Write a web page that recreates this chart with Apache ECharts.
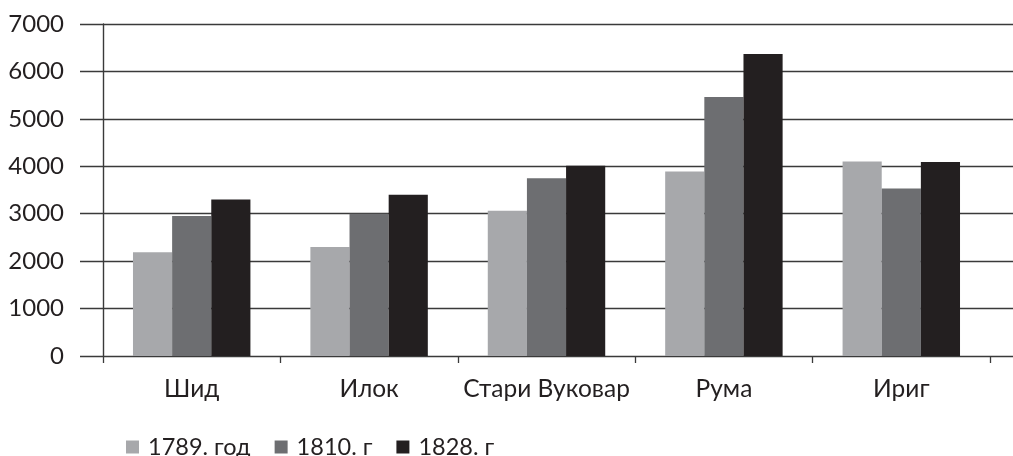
<!DOCTYPE html>
<html>
<head>
<meta charset="utf-8">
<script src="https://cdn.jsdelivr.net/npm/echarts@6/dist/echarts.min.js"></script>
<style>
  html, body { margin: 0; padding: 0; background: #fff; }
  #chart { width: 1013px; height: 456px; }
</style>
</head>
<body>
<div id="chart"></div>
<script>
// места
var categories = ['Шид', 'Илок', 'Стари Вуковар', 'Рума', 'Ириг'];
// број становника по годинама
var seriesNames = ['1789. год', '1810. г', '1828. г'];
var data1789 = [2190, 2300, 3060, 3890, 4100];
var data1810 = [2950, 3000, 3750, 5460, 3530];
var data1828 = [3300, 3400, 4010, 6370, 4090];
var yTicks = [0, 1000, 2000, 3000, 4000, 5000, 6000, 7000];

var colors = ['#a7a8ab', '#6d6e71', '#231f20'];
var font = 'Lato, "Noto Sans", sans-serif';
var textColor = '#231f20';

var chart = echarts.init(document.getElementById('chart'));

chart.setOption({
  animation: false,
  color: colors,
  legend: {
    left: 121,
    top: 430,
    itemWidth: 13,
    itemHeight: 13,
    itemGap: 24,
    icon: 'rect',
    textStyle: { fontFamily: font, fontSize: 23.5, color: textColor, padding: [0, 0, 0, 4] },
    data: seriesNames
  },
  grid: [
    // само линије мреже и ознаке на Y оси
    { left: 80, right: 0, top: 24, bottom: 100 },
    // стубићи
    { left: 103, right: 23, top: 24, bottom: 100 }
  ],
  xAxis: [
    { gridIndex: 0, type: 'value', show: false, min: 0, max: 1 },
    {
      gridIndex: 1,
      type: 'category',
      data: categories,
      axisLine: { show: false },
      axisTick: { show: true, length: 7, lineStyle: { color: '#3a3a3a', width: 1.3 } },
      axisLabel: { interval: 0, margin: 21, fontFamily: font, fontSize: 24.5, color: textColor }
    }
  ],
  yAxis: [
    {
      gridIndex: 0,
      type: 'value',
      min: yTicks[0],
      max: yTicks[yTicks.length - 1],
      interval: 1000,
      axisLine: { show: false },
      axisTick: { show: false },
      splitLine: { show: true, lineStyle: { color: '#3a3a3a', width: 1.4 } },
      axisLabel: {
        margin: 16, fontFamily: font, fontSize: 24, color: textColor,
        formatter: function (v) { return String(v); }
      }
    },
    {
      gridIndex: 1,
      type: 'value',
      min: yTicks[0],
      max: yTicks[yTicks.length - 1],
      interval: 1000,
      axisLine: { show: true, lineStyle: { color: '#3a3a3a', width: 1.4 } },
      axisTick: { show: false },
      axisLabel: { show: false },
      splitLine: { show: false }
    }
  ],
  series: [
    { name: seriesNames[0], type: 'bar', xAxisIndex: 1, yAxisIndex: 1, data: data1789, barGap: '0%', barCategoryGap: '33.8%' },
    { name: seriesNames[1], type: 'bar', xAxisIndex: 1, yAxisIndex: 1, data: data1810, barGap: '0%', barCategoryGap: '33.8%' },
    { name: seriesNames[2], type: 'bar', xAxisIndex: 1, yAxisIndex: 1, data: data1828, barGap: '0%', barCategoryGap: '33.8%' }
  ]
});
</script>
</body>
</html>
